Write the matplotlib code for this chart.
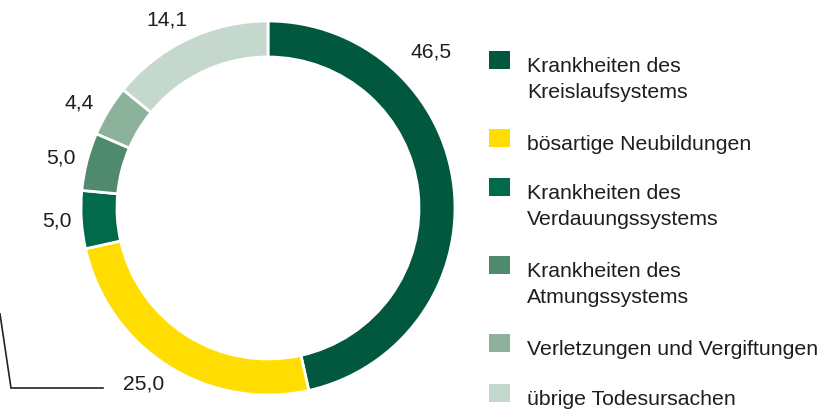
import matplotlib.pyplot as plt
from matplotlib.patches import Rectangle

plt.rcParams['font.family'] = ['Liberation Sans', 'DejaVu Sans']

# Todesursachen, Anteile in %
kategorien = ['Krankheiten des\nKreislaufsystems', 'bösartige Neubildungen',
              'Krankheiten des\nVerdauungssystems', 'Krankheiten des\nAtmungssystems',
              'Verletzungen und Vergiftungen', 'übrige Todesursachen']
werte = [46.5, 25.0, 5.0, 5.0, 4.4, 14.1]
beschriftung = ['46,5', '25,0', '5,0', '5,0', '4,4', '14,1']
farben = ['#02583F', '#FFDD00', '#006A4B', '#4F8A6F', '#8CB29C', '#C5D8CD']

W, H = 837, 410
fig = plt.figure(figsize=(W / 100, H / 100), dpi=100)
ax = fig.add_axes([0, 0, 1, 1])

# Ring (Pixelkoordinaten, y von unten)
cx, cy, r = 268, H - 209, 187
ax.pie(werte, colors=farben, startangle=90, counterclock=False,
       center=(cx, cy), radius=r, frame=True,
       wedgeprops=dict(width=36, edgecolor='white', linewidth=2))
ax.set_xlim(0, W)
ax.set_ylim(0, H)
ax.set_aspect('equal')
ax.axis('off')

# Werte an den Segmenten
label_pos = [(431, 52), (144, 384), (57, 221), (61, 158), (79, 103), (167, 20)]
for txt, (x, y) in zip(beschriftung, label_pos):
    ax.text(x, H - y, txt, ha='center', va='center', fontsize=15.2, color='#1e1e1e')

# Hinweislinie
ax.plot([0, 11, 103], [H - 315, H - 389, H - 389], color='#222222', lw=1.2,
        solid_joinstyle='miter', clip_on=False)

# Legende
patch_top = [52, 130, 179, 257, 335, 385]
for kat, farbe, top in zip(kategorien, farben, patch_top):
    ax.add_patch(Rectangle((489, H - top - 18), 21, 18, facecolor=farbe, edgecolor='none'))
    for i, zeile in enumerate(kat.split('\n')):
        ax.text(527, H - (top + 20 + 26 * i), zeile, ha='left', va='baseline',
                fontsize=15.3, color='#1e1e1e')

fig.savefig('out.png', dpi=100)
